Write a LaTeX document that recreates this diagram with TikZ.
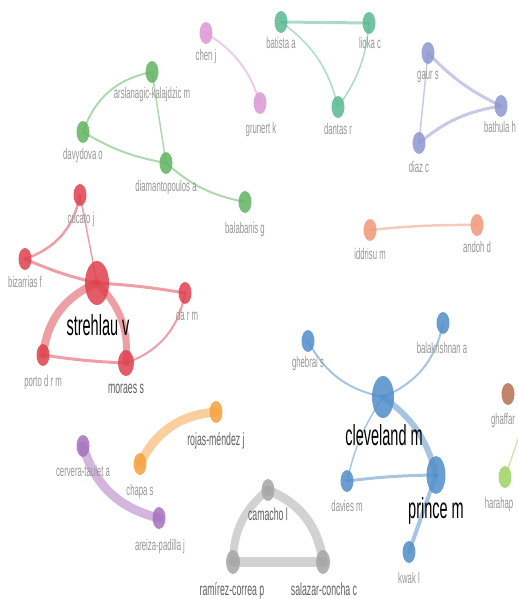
\documentclass[tikz,border=0pt]{standalone}
\usepackage{fontspec}
\setmainfont{Liberation Sans}
\newfontfamily\nfont[FakeStretch=0.5]{Liberation Sans}
\usetikzlibrary{shapes.geometric,backgrounds}
\definecolor{cR}{RGB}{222,64,76}
\definecolor{cG}{RGB}{96,178,96}
\definecolor{cT}{RGB}{88,184,144}
\definecolor{cL}{RGB}{140,150,205}
\definecolor{cP}{RGB}{220,150,210}
\definecolor{cS}{RGB}{240,150,120}
\definecolor{cB}{RGB}{80,140,200}
\definecolor{cO}{RGB}{245,160,60}
\definecolor{cU}{RGB}{165,110,190}
\definecolor{cY}{RGB}{165,165,165}
\definecolor{cN}{RGB}{180,110,80}
\definecolor{cK}{RGB}{160,210,100}
\definecolor{lblgray}{RGB}{150,150,150}
\definecolor{lbldark}{RGB}{95,95,95}
\tikzset{
  vnode/.style={ellipse,draw=none,inner sep=0pt,fill=#1,fill opacity=0.85,minimum width=13pt,minimum height=22pt},
  edge/.style={draw=#1,draw opacity=0.5,line cap=round},
  lbl/.style={anchor=base,inner sep=0pt,text=lblgray,font=\nfont\fontsize{15.5}{16}\selectfont},
  mlbl/.style={anchor=base,inner sep=0pt,text=lbldark,font=\nfont\fontsize{17.5}{18}\selectfont},
  blbl/.style={anchor=base,inner sep=0pt,text=black,font=\nfont\fontsize{29}{30}\selectfont}
}
\begin{document}
\begin{tikzpicture}[x=1pt,y=1pt]
\useasboundingbox (0,0) rectangle (517,-599);
\clip (0,0) rectangle (517,-599);
% nodes
\node[vnode=cG] (arsl) at (152,-72) {};
\node[vnode=cG] (davy) at (83,-132) {};
\node[vnode=cG] (diam) at (166,-163) {};
\node[vnode=cG] (bala) at (245,-202) {};
\node[vnode=cP] (chen) at (206,-33) {};
\node[vnode=cP] (grun) at (260,-103) {};
\node[vnode=cT] (bati) at (281,-22) {};
\node[vnode=cT] (lioka) at (369,-23) {};
\node[vnode=cT] (dant) at (338,-107) {};
\node[vnode=cL] (gaur) at (428,-53) {};
\node[vnode=cL] (bath) at (501,-106) {};
\node[vnode=cL] (diaz) at (419,-143) {};
\node[vnode=cS] (iddr) at (370,-230) {};
\node[vnode=cS] (ando) at (477,-225) {};
\node[vnode=cR] (cuca) at (80,-195) {};
\node[vnode=cR] (biza) at (25,-259) {};
\node[vnode=cR,minimum width=24pt,minimum height=44pt] (stre) at (97,-283) {};
\node[vnode=cR] (darm) at (185,-293) {};
\node[vnode=cR] (port) at (43,-355) {};
\node[vnode=cR,minimum width=16pt,minimum height=26pt] (mora) at (126,-363) {};
\node[vnode=cU] (cerv) at (83,-446) {};
\node[vnode=cU] (arei) at (159,-518) {};
\node[vnode=cO] (roja) at (216,-412) {};
\node[vnode=cO] (chap) at (140,-464) {};
\node[vnode=cY] (cama) at (268,-490) {};
\node[vnode=cY,minimum width=14pt,minimum height=24pt] (rami) at (233,-562) {};
\node[vnode=cY,minimum width=14pt,minimum height=24pt] (sala) at (323,-562) {};
\node[vnode=cB] (gheb) at (308,-341) {};
\node[vnode=cB] (balk) at (443,-323) {};
\node[vnode=cB,minimum width=22pt,minimum height=42pt] (clev) at (383,-397) {};
\node[vnode=cB,minimum width=19pt,minimum height=38pt] (prin) at (436,-475) {};
\node[vnode=cB] (davi) at (347,-481) {};
\node[vnode=cB] (kwak) at (409,-552) {};
\node[vnode=cN] (ghaf) at (508,-394) {};
\node[vnode=cK] (hara) at (505,-477) {};
\coordinate (haraout) at (522,-428);
% edges
\begin{pgfonlayer}{background}
\draw[edge=cG,line width=2] (davy.center) to[bend left=30] (arsl.center);
\draw[edge=cG,line width=2] (davy.center) to[bend right=10] (diam.center);
\draw[edge=cG,line width=1.5] (arsl.center) -- (diam.center);
\draw[edge=cG,line width=2] (diam.center) to[bend right=15] (bala.center);
\draw[edge=cP,line width=2] (chen.center) to[bend left=20] (grun.center);
\draw[edge=cT,line width=3] (bati.center) -- (lioka.center);
\draw[edge=cT,line width=1.5] (bati.center) to[bend left=20] (dant.center);
\draw[edge=cT,line width=1.5] (dant.center) to[bend right=15] (lioka.center);
\draw[edge=cL,line width=3] (gaur.center) to[bend right=10] (bath.center);
\draw[edge=cL,line width=1.5] (gaur.center) -- (diaz.center);
\draw[edge=cL,line width=3] (diaz.center) to[bend left=15] (bath.center);
\draw[edge=cS,line width=2.5] (iddr.center) to[bend left=3] (ando.center);
\draw[edge=cR,line width=2.5] (cuca.center) to[bend left=30] (biza.center);
\draw[edge=cR,line width=1.5] (cuca.center) -- (stre.center);
\draw[edge=cR,line width=3] (biza.center) to[bend right=5] (stre.center);
\draw[edge=cR,line width=3] (stre.center) to[bend left=3] (darm.center);
\draw[edge=cR,line width=8] (stre.center) to[bend right=30] (port.center);
\draw[edge=cR,line width=7] (stre.center) to[bend left=25] (mora.center);
\draw[edge=cR,line width=3] (port.center) to[bend right=3] (mora.center);
\draw[edge=cR,line width=2] (mora.center) to[bend right=30] (darm.center);
\draw[edge=cU,line width=9] (cerv.center) to[bend right=30] (arei.center);
\draw[edge=cO,line width=9] (chap.center) to[bend left=30] (roja.center);
\draw[edge=cY,line width=8] (rami.center) to[bend left=25] (cama.center);
\draw[edge=cY,line width=9] (cama.center) to[bend left=30] (sala.center);
\draw[edge=cY,line width=10] (rami.center) -- (sala.center);
\draw[edge=cB,line width=2] (gheb.center) to[bend right=25] (clev.center);
\draw[edge=cB,line width=2] (balk.center) to[bend left=28] (clev.center);
\draw[edge=cB,line width=6] (clev.center) to[bend left=20] (prin.center);
\draw[edge=cB,line width=1.5] (clev.center) to[bend right=10] (davi.center);
\draw[edge=cB,line width=3] (davi.center) to[bend left=3] (prin.center);
\draw[edge=cB,line width=4] (prin.center) -- (kwak.center);
\draw[edge=cK,line width=1.5] (hara.center) -- (haraout);
\end{pgfonlayer}
% labels
\node[lbl] (l-arsl) at (152,-99) {arslanagic-kalajdzic m};
\node[lbl] (l-davy) at (83,-159) {davydova o};
\node[lbl] (l-diam) at (166,-191) {diamantopoulos a};
\node[lbl] (l-bala) at (245,-233) {balabanis g};
\node[lbl] (l-chen) at (206,-61) {chen j};
\node[lbl] (l-grun) at (261,-133) {grunert k};
\node[lbl] (l-bati) at (281,-49) {batista a};
\node[lbl] (l-lioka) at (370,-49) {lioka c};
\node[lbl] (l-dant) at (338,-135) {dantas r};
\node[lbl] (l-gaur) at (428,-80) {gaur s};
\node[lbl] (l-bath) at (500,-132) {bathula h};
\node[lbl] (l-diaz) at (419,-172) {diaz c};
\node[lbl] (l-iddr) at (370,-259) {iddrisu m};
\node[lbl] (l-ando) at (477,-252) {andoh d};
\node[lbl] (l-cuca) at (81,-223) {cucato j};
\node[lbl] (l-biza) at (25,-287) {bizarrias f};
\node[lbl] (l-darm) at (187,-320) {da r m};
\node[lbl] (l-port) at (43,-386) {porto d r m};
\node[mlbl] (l-mora) at (126,-393) {moraes s};
\node[lbl] (l-cerv) at (83,-476) {cervera-taulet a};
\node[lbl] (l-chap) at (140,-495) {chapa s};
\node[mlbl] (l-roja) at (216,-445) {rojas-méndez j};
\node[lbl] (l-arei) at (160,-550) {areiza-padilla j};
\node[mlbl] (l-cama) at (268,-520) {camacho l};
\node[mlbl] (l-rami) at (232,-595) {ramírez-correa p};
\node[mlbl] (l-sala) at (324,-595) {salazar-concha c};
\node[lbl] (l-gheb) at (308,-367) {ghebrai s};
\node[lbl] (l-balk) at (442,-353) {balakrishnan a};
\node[lbl] (l-davi) at (347,-511) {davies m};
\node[lbl] (l-kwak) at (409,-583) {kwak l};
\node[lbl] (l-ghaf) at (503,-424) {ghaffar};
\node[lbl] (l-hara) at (499,-508) {harahap};
\node[blbl] (l-stre) at (98,-335) {strehlau v};
\node[blbl] (l-clev) at (384,-445) {cleveland m};
\node[blbl] (l-prin) at (436,-518) {prince m};
\end{tikzpicture}
\end{document}
